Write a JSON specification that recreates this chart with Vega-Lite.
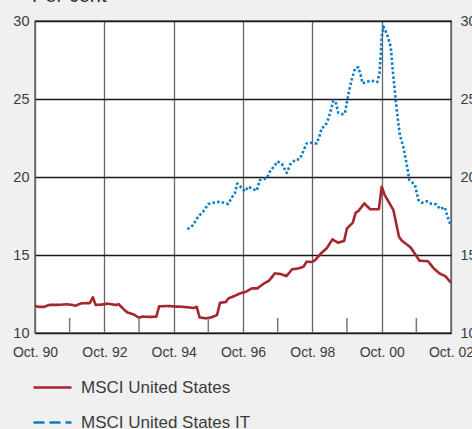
{
  "$schema": "https://vega.github.io/schema/vega-lite/v6.json",
  "width": 416,
  "height": 312,
  "autosize": {"type": "none"},
  "padding": {"left": 35, "top": 21, "right": 21, "bottom": 96},
  "background": "#eff0ef",
  "title": {"text": "Per cent", "anchor": "start", "frame": "group", "offset": -9, "baseline": "alphabetic", "fontSize": 20, "fontWeight": "normal", "color": "#333333", "font": "Liberation Sans", "dx": -3},
  "config": {
    "view": {"stroke": "#111111", "strokeWidth": 1.3, "fill": "#ffffff"},
    "font": "Liberation Sans"
  },
  "datasets": {
    "series": [
      {"date": "1990-10-01", "series": "MSCI United States", "value": 11.75},
      {"date": "1990-11-01", "series": "MSCI United States", "value": 11.68},
      {"date": "1991-01-01", "series": "MSCI United States", "value": 11.67},
      {"date": "1991-03-01", "series": "MSCI United States", "value": 11.8},
      {"date": "1991-06-01", "series": "MSCI United States", "value": 11.8},
      {"date": "1991-09-01", "series": "MSCI United States", "value": 11.84},
      {"date": "1991-11-01", "series": "MSCI United States", "value": 11.8},
      {"date": "1991-12-01", "series": "MSCI United States", "value": 11.75},
      {"date": "1992-02-01", "series": "MSCI United States", "value": 11.9},
      {"date": "1992-05-01", "series": "MSCI United States", "value": 11.92},
      {"date": "1992-06-01", "series": "MSCI United States", "value": 12.29},
      {"date": "1992-07-01", "series": "MSCI United States", "value": 11.8},
      {"date": "1992-09-01", "series": "MSCI United States", "value": 11.82},
      {"date": "1992-11-01", "series": "MSCI United States", "value": 11.88},
      {"date": "1993-02-01", "series": "MSCI United States", "value": 11.8},
      {"date": "1993-03-01", "series": "MSCI United States", "value": 11.85},
      {"date": "1993-05-01", "series": "MSCI United States", "value": 11.47},
      {"date": "1993-06-01", "series": "MSCI United States", "value": 11.32},
      {"date": "1993-08-01", "series": "MSCI United States", "value": 11.2},
      {"date": "1993-10-01", "series": "MSCI United States", "value": 10.98},
      {"date": "1993-11-01", "series": "MSCI United States", "value": 11.05},
      {"date": "1994-02-01", "series": "MSCI United States", "value": 11.03},
      {"date": "1994-04-01", "series": "MSCI United States", "value": 11.05},
      {"date": "1994-05-01", "series": "MSCI United States", "value": 11.71},
      {"date": "1994-08-01", "series": "MSCI United States", "value": 11.73},
      {"date": "1994-11-01", "series": "MSCI United States", "value": 11.69},
      {"date": "1994-12-01", "series": "MSCI United States", "value": 11.69},
      {"date": "1995-03-01", "series": "MSCI United States", "value": 11.65},
      {"date": "1995-05-01", "series": "MSCI United States", "value": 11.6},
      {"date": "1995-06-01", "series": "MSCI United States", "value": 11.68},
      {"date": "1995-07-01", "series": "MSCI United States", "value": 11.0},
      {"date": "1995-09-01", "series": "MSCI United States", "value": 10.94},
      {"date": "1995-11-01", "series": "MSCI United States", "value": 11.0},
      {"date": "1996-01-01", "series": "MSCI United States", "value": 11.15},
      {"date": "1996-02-01", "series": "MSCI United States", "value": 11.94},
      {"date": "1996-04-01", "series": "MSCI United States", "value": 11.98},
      {"date": "1996-05-01", "series": "MSCI United States", "value": 12.22},
      {"date": "1996-07-01", "series": "MSCI United States", "value": 12.37},
      {"date": "1996-09-01", "series": "MSCI United States", "value": 12.54},
      {"date": "1996-11-01", "series": "MSCI United States", "value": 12.65},
      {"date": "1997-01-01", "series": "MSCI United States", "value": 12.86},
      {"date": "1997-03-01", "series": "MSCI United States", "value": 12.86},
      {"date": "1997-05-01", "series": "MSCI United States", "value": 13.14},
      {"date": "1997-07-01", "series": "MSCI United States", "value": 13.35},
      {"date": "1997-09-01", "series": "MSCI United States", "value": 13.82},
      {"date": "1997-11-01", "series": "MSCI United States", "value": 13.78},
      {"date": "1998-01-01", "series": "MSCI United States", "value": 13.65},
      {"date": "1998-03-01", "series": "MSCI United States", "value": 14.08},
      {"date": "1998-05-01", "series": "MSCI United States", "value": 14.13},
      {"date": "1998-07-01", "series": "MSCI United States", "value": 14.25},
      {"date": "1998-08-01", "series": "MSCI United States", "value": 14.57},
      {"date": "1998-10-01", "series": "MSCI United States", "value": 14.55},
      {"date": "1998-11-01", "series": "MSCI United States", "value": 14.68},
      {"date": "1999-01-01", "series": "MSCI United States", "value": 15.11},
      {"date": "1999-03-01", "series": "MSCI United States", "value": 15.43},
      {"date": "1999-05-01", "series": "MSCI United States", "value": 16.0},
      {"date": "1999-07-01", "series": "MSCI United States", "value": 15.79},
      {"date": "1999-09-01", "series": "MSCI United States", "value": 15.9},
      {"date": "1999-10-01", "series": "MSCI United States", "value": 16.71},
      {"date": "1999-12-01", "series": "MSCI United States", "value": 17.07},
      {"date": "2000-01-01", "series": "MSCI United States", "value": 17.71},
      {"date": "2000-02-01", "series": "MSCI United States", "value": 17.84},
      {"date": "2000-04-01", "series": "MSCI United States", "value": 18.31},
      {"date": "2000-06-01", "series": "MSCI United States", "value": 17.93},
      {"date": "2000-09-01", "series": "MSCI United States", "value": 17.93},
      {"date": "2000-10-01", "series": "MSCI United States", "value": 19.38},
      {"date": "2000-11-01", "series": "MSCI United States", "value": 18.85},
      {"date": "2001-01-01", "series": "MSCI United States", "value": 18.21},
      {"date": "2001-02-01", "series": "MSCI United States", "value": 17.88},
      {"date": "2001-04-01", "series": "MSCI United States", "value": 16.17},
      {"date": "2001-05-01", "series": "MSCI United States", "value": 15.92},
      {"date": "2001-08-01", "series": "MSCI United States", "value": 15.49},
      {"date": "2001-10-01", "series": "MSCI United States", "value": 14.94},
      {"date": "2001-11-01", "series": "MSCI United States", "value": 14.64},
      {"date": "2002-02-01", "series": "MSCI United States", "value": 14.6},
      {"date": "2002-04-01", "series": "MSCI United States", "value": 14.15},
      {"date": "2002-06-01", "series": "MSCI United States", "value": 13.82},
      {"date": "2002-08-01", "series": "MSCI United States", "value": 13.65},
      {"date": "2002-10-01", "series": "MSCI United States", "value": 13.22},
      {"date": "1995-02-22", "series": "MSCI United States IT", "value": 16.65},
      {"date": "1995-04-25", "series": "MSCI United States IT", "value": 16.92},
      {"date": "1995-06-16", "series": "MSCI United States IT", "value": 17.46},
      {"date": "1995-08-10", "series": "MSCI United States IT", "value": 17.8},
      {"date": "1995-10-01", "series": "MSCI United States IT", "value": 18.27},
      {"date": "1995-11-22", "series": "MSCI United States IT", "value": 18.35},
      {"date": "1996-02-01", "series": "MSCI United States IT", "value": 18.42},
      {"date": "1996-04-28", "series": "MSCI United States IT", "value": 18.27},
      {"date": "1996-06-04", "series": "MSCI United States IT", "value": 18.69},
      {"date": "1996-07-07", "series": "MSCI United States IT", "value": 18.95},
      {"date": "1996-08-01", "series": "MSCI United States IT", "value": 19.58},
      {"date": "1996-09-16", "series": "MSCI United States IT", "value": 19.3},
      {"date": "1996-10-22", "series": "MSCI United States IT", "value": 19.08},
      {"date": "1996-11-25", "series": "MSCI United States IT", "value": 19.38},
      {"date": "1997-02-22", "series": "MSCI United States IT", "value": 19.12},
      {"date": "1997-03-28", "series": "MSCI United States IT", "value": 19.81},
      {"date": "1997-06-07", "series": "MSCI United States IT", "value": 19.91},
      {"date": "1997-07-10", "series": "MSCI United States IT", "value": 20.34},
      {"date": "1997-09-04", "series": "MSCI United States IT", "value": 20.77},
      {"date": "1997-09-28", "series": "MSCI United States IT", "value": 21.0},
      {"date": "1997-11-13", "series": "MSCI United States IT", "value": 20.85},
      {"date": "1998-01-04", "series": "MSCI United States IT", "value": 20.26},
      {"date": "1998-02-10", "series": "MSCI United States IT", "value": 20.8},
      {"date": "1998-04-01", "series": "MSCI United States IT", "value": 21.09},
      {"date": "1998-05-22", "series": "MSCI United States IT", "value": 21.15},
      {"date": "1998-07-04", "series": "MSCI United States IT", "value": 21.73},
      {"date": "1998-08-01", "series": "MSCI United States IT", "value": 22.15},
      {"date": "1998-09-25", "series": "MSCI United States IT", "value": 22.2},
      {"date": "1998-11-16", "series": "MSCI United States IT", "value": 22.15},
      {"date": "1998-12-19", "series": "MSCI United States IT", "value": 22.69},
      {"date": "1999-01-07", "series": "MSCI United States IT", "value": 23.14},
      {"date": "1999-02-13", "series": "MSCI United States IT", "value": 23.27},
      {"date": "1999-03-16", "series": "MSCI United States IT", "value": 23.7},
      {"date": "1999-04-13", "series": "MSCI United States IT", "value": 24.25},
      {"date": "1999-05-10", "series": "MSCI United States IT", "value": 24.9},
      {"date": "1999-06-07", "series": "MSCI United States IT", "value": 24.72},
      {"date": "1999-07-01", "series": "MSCI United States IT", "value": 24.12},
      {"date": "1999-08-07", "series": "MSCI United States IT", "value": 24.02},
      {"date": "1999-09-10", "series": "MSCI United States IT", "value": 24.08},
      {"date": "1999-09-28", "series": "MSCI United States IT", "value": 24.72},
      {"date": "1999-10-25", "series": "MSCI United States IT", "value": 25.58},
      {"date": "1999-11-19", "series": "MSCI United States IT", "value": 26.22},
      {"date": "1999-12-25", "series": "MSCI United States IT", "value": 26.97},
      {"date": "2000-01-28", "series": "MSCI United States IT", "value": 27.03},
      {"date": "2000-02-22", "series": "MSCI United States IT", "value": 26.54},
      {"date": "2000-03-13", "series": "MSCI United States IT", "value": 26.0},
      {"date": "2000-04-25", "series": "MSCI United States IT", "value": 26.11},
      {"date": "2000-06-16", "series": "MSCI United States IT", "value": 26.17},
      {"date": "2000-08-16", "series": "MSCI United States IT", "value": 26.09},
      {"date": "2000-09-07", "series": "MSCI United States IT", "value": 26.65},
      {"date": "2000-09-22", "series": "MSCI United States IT", "value": 27.93},
      {"date": "2000-10-01", "series": "MSCI United States IT", "value": 29.0},
      {"date": "2000-10-19", "series": "MSCI United States IT", "value": 29.64},
      {"date": "2000-11-13", "series": "MSCI United States IT", "value": 29.32},
      {"date": "2000-12-04", "series": "MSCI United States IT", "value": 29.0},
      {"date": "2001-01-04", "series": "MSCI United States IT", "value": 28.35},
      {"date": "2001-01-25", "series": "MSCI United States IT", "value": 26.86},
      {"date": "2001-02-15", "series": "MSCI United States IT", "value": 25.58},
      {"date": "2001-03-07", "series": "MSCI United States IT", "value": 24.4},
      {"date": "2001-03-25", "series": "MSCI United States IT", "value": 23.44},
      {"date": "2001-04-10", "series": "MSCI United States IT", "value": 22.7},
      {"date": "2001-05-16", "series": "MSCI United States IT", "value": 21.94},
      {"date": "2001-06-22", "series": "MSCI United States IT", "value": 20.8},
      {"date": "2001-07-19", "series": "MSCI United States IT", "value": 19.81},
      {"date": "2001-09-16", "series": "MSCI United States IT", "value": 19.5},
      {"date": "2001-10-22", "series": "MSCI United States IT", "value": 18.53},
      {"date": "2001-11-28", "series": "MSCI United States IT", "value": 18.35},
      {"date": "2002-01-19", "series": "MSCI United States IT", "value": 18.45},
      {"date": "2002-03-10", "series": "MSCI United States IT", "value": 18.27},
      {"date": "2002-05-01", "series": "MSCI United States IT", "value": 18.25},
      {"date": "2002-06-07", "series": "MSCI United States IT", "value": 17.95},
      {"date": "2002-07-28", "series": "MSCI United States IT", "value": 18.06},
      {"date": "2002-08-25", "series": "MSCI United States IT", "value": 17.46},
      {"date": "2002-10-01", "series": "MSCI United States IT", "value": 16.85}
    ],
    "minorTicks": [
      {"date": "1991-10-01"},
      {"date": "1993-10-01"},
      {"date": "1995-10-01"},
      {"date": "1997-10-01"},
      {"date": "1999-10-01"},
      {"date": "2001-10-01"}
    ]
  },
  "encoding": {
    "x": {
      "field": "date",
      "type": "temporal",
      "scale": {"type": "utc", "domain": [{"year": 1990, "month": 10, "date": 1, "utc": true}, {"year": 2002, "month": 10, "date": 1, "utc": true}], "nice": false},
      "axis": {
        "title": null,
        "values": [
          {"year": 1990, "month": 10, "date": 1, "utc": true},
          {"year": 1992, "month": 10, "date": 1, "utc": true},
          {"year": 1994, "month": 10, "date": 1, "utc": true},
          {"year": 1996, "month": 10, "date": 1, "utc": true},
          {"year": 1998, "month": 10, "date": 1, "utc": true},
          {"year": 2000, "month": 10, "date": 1, "utc": true},
          {"year": 2002, "month": 10, "date": 1, "utc": true}
        ],
        "labelExpr": "utcFormat(datum.value, '%b. %y')",
        "domain": false,
        "ticks": false,
        "grid": true,
        "gridColor": "#666666",
        "gridWidth": 1.3,
        "gridOpacity": 1,
        "labelFontSize": 14,
        "labelColor": "#3c3c3c",
        "labelPadding": 12,
        "labelFont": "Liberation Sans",
        "labelFlush": false,
        "labelOverlap": false
      }
    }
  },
  "layer": [
    {
      "data": {"name": "series"},
      "mark": {
        "type": "line",
        "strokeWidth": 2.6,
        "strokeCap": "butt",
        "strokeJoin": "round",
        "strokeDash": {"expr": "datum.series == 'MSCI United States IT' ? [2.5, 2.2] : (datum.value == 'MSCI United States IT' ? [11, 5] : [1, 0])"}
      },
      "encoding": {
        "y": {
          "field": "value",
          "type": "quantitative",
          "scale": {"domain": [10, 30], "nice": false, "zero": false},
          "axis": {
            "title": null,
            "orient": "left",
            "values": [10, 15, 20, 25, 30],
            "domain": false,
            "ticks": false,
            "grid": true,
            "gridColor": "#1a1a1a",
            "gridWidth": 1.3,
            "gridOpacity": 1,
            "labelFontSize": 14.5,
            "labelColor": "#3c3c3c",
            "labelPadding": 6,
            "labelFont": "Liberation Sans",
            "labelFlush": false
          }
        },
        "color": {
          "field": "series",
          "type": "nominal",
          "scale": {"domain": ["MSCI United States", "MSCI United States IT"], "range": ["#a6262e", "#0a7dc6"]},
          "legend": {
            "orient": "none",
            "legendX": -3,
            "legendY": 346,
            "title": null,
            "symbolType": "stroke",
            "symbolSize": 1444,
            "symbolStrokeWidth": 2.7,
            "labelFontSize": 17,
            "labelColor": "#3c3c3c",
            "labelFont": "Liberation Sans",
            "labelOffset": 8,
            "labelLimit": 400,
            "rowPadding": 6,
            "encode": {"symbols": {"update": {"strokeDash": {"signal": "datum.value == 'MSCI United States IT' ? [11, 5] : [1, 0]"}}}}
          }
        }
      }
    },
    {
      "data": {"name": "minorTicks"},
      "mark": {"type": "rule", "color": "#777777", "strokeWidth": 1.5},
      "encoding": {
        "y": {
          "datum": 10,
          "type": "quantitative",
          "scale": {"domain": [10, 30], "nice": false, "zero": false},
          "axis": {
            "title": null,
            "orient": "right",
            "values": [10, 15, 20, 25, 30],
            "domain": false,
            "ticks": false,
            "grid": false,
            "labelFontSize": 14.5,
            "labelColor": "#3c3c3c",
            "labelPadding": 9,
            "labelFont": "Liberation Sans",
            "labelFlush": false
          }
        },
        "y2": {"datum": 10.96}
      }
    }
  ],
  "resolve": {"axis": {"y": "independent"}}
}
